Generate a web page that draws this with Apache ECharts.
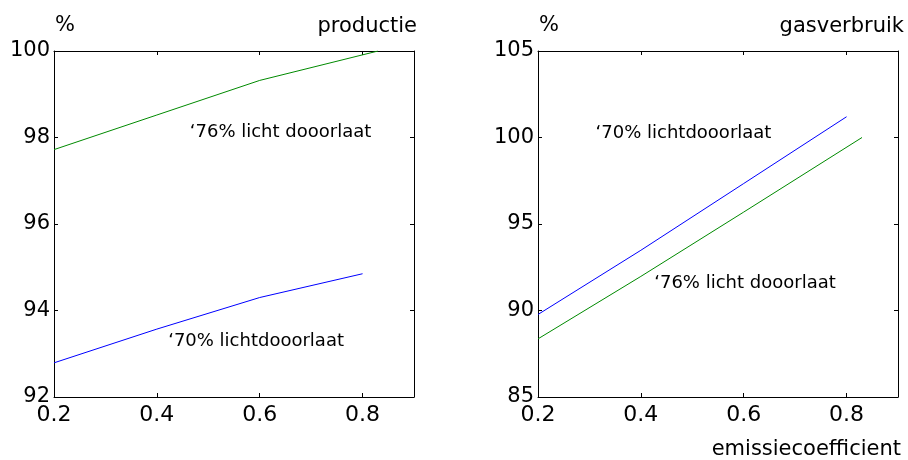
<!DOCTYPE html>
<html>
<head>
<meta charset="utf-8">
<script src="https://cdn.jsdelivr.net/npm/echarts@6/dist/echarts.min.js"></script>
<style>
html,body{margin:0;padding:0;background:#fff;}
#c{width:908px;height:460px;}
</style>
</head>
<body>
<div id="c"></div>
<script>
// x values (emissiecoefficient)
const xBlue = [0.2, 0.4, 0.6, 0.8];
const xGreen = [0.2, 0.4, 0.6, 0.83];
// productie (%)
const prodBlue = [92.79, 93.57, 94.30, 94.85];
const prodGreen = [97.72, 98.52, 99.32, 100.0];
// gasverbruik (%)
const gasBlue = [89.77, 93.48, 97.34, 101.2];
const gasGreen = [88.36, 91.97, 95.69, 100.0];
// texts
const panelTitles = ['productie', 'gasverbruik'];
const unitLabel = '%';
const xAxisName = 'emissiecoefficient';
const label70 = '\u201870% lichtdooorlaat';
const label76 = '\u201876% licht dooorlaat';
// annotation anchor positions in data coordinates [x, y]
const annotations = [
  {grid: 0, text: label76, at: [0.464, 98.13]},
  {grid: 0, text: label70, at: [0.422, 93.28]},
  {grid: 1, text: label70, at: [0.312, 100.23]},
  {grid: 1, text: label76, at: [0.426, 91.58]}
];

const FONT = 'DejaVu Sans, Arial, sans-serif';
const BLUE = '#0000ff';
const GREEN = '#008a00';

const zip = (xs, ys) => xs.map((x, i) => [x, ys[i]]);

function xAx(gridIndex, pos, labels) {
  return {
    type: 'value', gridIndex, position: pos, min: 0.2, max: 0.9, interval: 0.2,
    axisLine: {show: true, onZero: false, lineStyle: {color: '#000', width: 1}},
    axisTick: {show: true, inside: true, length: 4, lineStyle: {color: '#000'}},
    splitLine: {show: false},
    axisLabel: {show: labels, showMaxLabel: false, color: '#000', fontFamily: FONT, fontSize: 22, margin: 7,
      formatter: v => v.toFixed(1)}
  };
}
function yAx(gridIndex, pos, min, max, interval, labels) {
  return {
    type: 'value', gridIndex, position: pos, min, max, interval,
    axisLine: {show: true, onZero: false, lineStyle: {color: '#000', width: 1}},
    axisTick: {show: true, inside: true, length: 4, lineStyle: {color: '#000'}},
    splitLine: {show: false},
    axisLabel: {show: labels, color: '#000', fontFamily: FONT, fontSize: 21, margin: 4}
  };
}
function line(xi, yi, data, color) {
  return {type: 'line', xAxisIndex: xi, yAxisIndex: yi, data, symbol: 'none', showSymbol: false,
    lineStyle: {color, width: 1}, itemStyle: {color}, animation: false, clip: true};
}

const chart = echarts.init(document.getElementById('c'), null, {renderer: 'canvas'});
chart.setOption({
  animation: false,
  backgroundColor: '#fff',
  grid: [
    {left: 54, right: 494, top: 51, bottom: 63, containLabel: false},
    {left: 538, right: 10, top: 51, bottom: 63, containLabel: false}
  ],
  xAxis: [xAx(0, 'bottom', true), xAx(0, 'top', false), xAx(1, 'bottom', true), xAx(1, 'top', false)],
  yAxis: [yAx(0, 'left', 92, 100, 2, true), yAx(0, 'right', 92, 100, 2, false),
          yAx(1, 'left', 85, 105, 5, true), yAx(1, 'right', 85, 105, 5, false)],
  series: [
    line(0, 0, zip(xGreen, prodGreen), GREEN),
    line(0, 0, zip(xBlue, prodBlue), BLUE),
    line(2, 2, zip(xBlue, gasBlue), BLUE),
    line(2, 2, zip(xGreen, gasGreen), GREEN)
  ]
});

const txt = (x, y, text, size, align) => ({
  type: 'text', x, y, silent: true,
  style: {text, fill: '#000', font: size + 'px ' + FONT, textAlign: align, textVerticalAlign: 'middle'}
});
const graphics = [
  txt(55, 26, unitLabel, 21, 'left'),
  txt(417, 27, panelTitles[0], 21, 'right'),
  txt(539, 26, unitLabel, 21, 'left'),
  txt(904, 27, panelTitles[1], 21, 'right'),
  txt(901, 450, xAxisName, 21, 'right')
];
annotations.forEach(a => {
  const p = chart.convertToPixel({gridIndex: a.grid}, a.at);
  graphics.push(txt(p[0], p[1], a.text, 18, 'left'));
});
chart.setOption({graphic: graphics});
</script>
</body>
</html>
